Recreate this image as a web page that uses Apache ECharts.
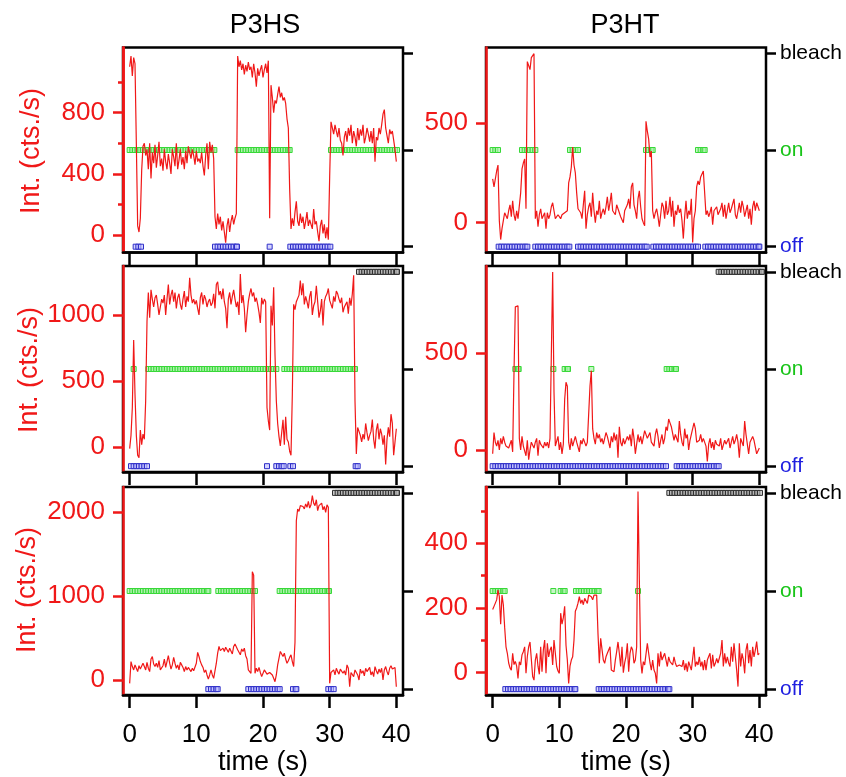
<!DOCTYPE html>
<html>
<head>
<meta charset="utf-8">
<script src="https://cdn.jsdelivr.net/npm/echarts@6/dist/echarts.min.js"></script>
<style>
html, body { margin: 0; padding: 0; background: #fff; }
#chart { width: 846px; height: 777px; }
</style>
</head>
<body>
<div id="chart"></div>
<script>
// Binned fluorescence traces, one value every DT seconds starting at t = 0
const DT = 0.2;
// Spacing of the state markers along the time axis (s)
const MARK_STEP = 0.4;

const timeTicks = [0, 10, 20, 30, 40];
const stateLabels = ['off', 'on', 'bleach'];

// ---- P3HS, molecule 1 ----
const hsTrace1 = [
  1100, 1170, 1040, 1160, 1120, 600, 60, 20, 110, 420,
  580, 600, 520, 560, 430, 600, 370, 540, 470, 590,
  440, 520, 610, 450, 500, 420, 560, 480, 430, 530,
  470, 400, 560, 510, 450, 600, 430, 490, 560, 460,
  510, 430, 550, 470, 580, 540, 500, 560, 520, 460,
  550, 480, 500, 470, 540, 450, 390, 520, 600, 430,
  610, 540, 590, 500, 120, 40, 140, 70, 120, 30,
  90, 80, -50, 60, 110, 20, 90, 130, 70, 110,
  140, 1170, 1100, 1140, 1080, 1120, 1050, 1110, 1070, 1130,
  1080, 1100, 1030, 1120, 1060, 970, 1090, 1040, 1080, 1110,
  1030, 1080, 1120, 1060, 1140, 110, 980, 900, 800, 880,
  860, 920, 970, 900, 930, 880, 900, 860, 760, 700,
  300, 40, 110, 60, 150, 220, 90, 60, 140, 80,
  120, 40, 90, 150, 60, 100, 110, 40, 170, 70,
  90, 20, -40, 60, 100, 10, 70, -20, 50, -30,
  380, 740, 700, 660, 720, 680, 640, 700, 620, 600,
  520, 640, 680, 610, 700, 650, 720, 600, 680, 640,
  580, 700, 620, 690, 650, 720, 600, 640, 700, 660,
  610, 680, 600, 700, 480, 640, 620, 700, 660, 720,
  790, 820, 700, 650, 600, 690, 660, 680, 620, 560,
  480
];
const hsOn1 = [[0, 12.7], [16.2, 24.0], [30.2, 40.1]];
const hsOff1 = [[0.9, 1.7], [12.8, 16.1], [21.0, 21.0], [24.1, 30.1]];
const hsBleach1 = [];
const hsTicks1 = [0, 400, 800];
const hsMinor1 = [200, 600, 1000];

// ---- P3HT, molecule 1 ----
const htTrace1 = [
  220, 180, 175, 260, 290, 10, -85, -30, 10, 50,
  40, 20, 60, 90, 30, 110, 40, 10, 60, 20,
  30, 150, 270, 300, 320, 70, 810, 790, 770, 830,
  840, 850, 20, 60, -20, 40, 70, 20, 30, 50,
  -30, 50, 20, 40, 80, 100, 60, 20, 30, 40,
  30, 20, 40, 30, 50, 40, 60, 200, 230, 280,
  380, 290, 250, 150, 70, 80, 50, 20, 30, 160,
  -30, 40, 80, 100, 30, 150, 60, 0, 60, 40,
  110, 20, 50, 70, 40, 80, 130, 60, 100, 150,
  60, 50, 40, 90, 70, 50, 30, 40, 0, 60,
  50, 90, 120, 70, 180, 200, 90, 60, 20, 120,
  160, 80, 20, 0, -15, 510, 460, 420, 330, 360,
  60, 20, 50, 70, 30, -20, 40, 100, 80, 20,
  110, 40, 60, 130, 30, 110, -20, 60, 40, 90,
  50, 70, 10, -80, 30, 110, 20, 60, 40, 120,
  -100, 20, 60, 180, 210, 190, 230, 240, 260, 270,
  40, 60, 30, 50, 80, -10, 60, 50, 80, 40,
  40, 70, 100, 30, 90, 20, 60, 100, 50, 70,
  80, 120, 40, 20, 60, 100, 50, 110, 80, 30,
  60, 90, 20, 70, -10, 80, 110, 60, 100, 80,
  60
];
const htOn1 = [[0, 0.8], [4.4, 6.4], [11.6, 12.8], [23.0, 24.0], [30.8, 31.8]];
const htOff1 = [[0.9, 5.2], [6.4, 11.5], [12.8, 23.1], [24.1, 30.8], [31.9, 40.0]];
const htBleach1 = [];
const htTicks1 = [0, 500];

// ---- P3HS, molecule 2 ----
const hsTrace2 = [
  -10, 90, 300, 810, 400, 90, -60, -80, 130, 20,
  100, 60, 350, 950, 1170, 980, 1190, 1120, 1060, 1130,
  1150, 1080, 1000, 1060, 1120, 1090, 1150, 1000, 1120, 1230,
  1080, 1150, 1190, 1100, 1170, 1050, 1130, 1160, 1080, 1040,
  1120, 1180, 1060, 1140, 1100, 1280, 1150, 1090, 1120, 1080,
  1110, 1050, 1000, 1130, 1170, 1080, 1150, 1120, 1060, 1100,
  1120, 1070, 1090, 1160, 1050, 1230, 1250, 1150, 1180, 1120,
  1200, 1100, 1050, 900, 1120, 1170, 1080, 1140, 1190, 1120,
  1060, 1100, 1000, 1310, 1090, 1150, 1050, 870, 1000, 1100,
  1160, 1200, 1140, 1170, 1100, 1130, 1080, 1020, 940, 1130,
  1080, 1120, 1100, 300, 200, 130, 1070, 920, 1210, 700,
  350, 180, 80, 10, 5, 207, 20, 230, 60, 40,
  -30, -60, 400, 1080, 1040, 1100, 1090, 1150, 1260, 1150,
  1240, 1080, 1140, 1100, 1050, 1140, 1180, 1000, 1070, 1100,
  1220, 1100, 980, 1030, 1120, 920, 1100, 1140, 1160, 1200,
  1110, 1080, 1050, 1140, 1100, 1180, 1160, 1120, 1090, 1130,
  1020, 1060, 1080, 1100, 1010, 1130, 1070, 1160, 1300, 350,
  -50, 150, 120, 90, 40, 100, 60, 180, 110, 50,
  90, 120, 210, 60, -10, 130, 180, 60, 140, 100,
  20, 90, -130, 60, 150, 80, 250, 180, -60, 40,
  140
];
const hsOn2 = [[0.6, 0.6], [2.8, 22.0], [23.2, 33.8]];
const hsOff2 = [[0.2, 2.6], [20.6, 20.6], [22.0, 23.1], [24.1, 24.5], [33.9, 34.2]];
const hsBleach2 = [[34.4, 40.1]];
const hsTicks2 = [0, 500, 1000];

// ---- P3HT, molecule 2 ----
const htTrace2 = [
  -20, 90, 40, 20, 50, 0, 60, 30, 70, 40,
  20, 30, 10, 0, 50, -10, 400, 740, 750, 745,
  60, 0, 70, 20, 10, -30, 50, -50, 0, 40,
  30, 10, 40, 60, -30, 50, 30, 20, 10, 40,
  20, 40, 10, 60, 60, 920, 300, 20, 10, 70,
  0, 40, -20, 30, 260, 350, 330, 40, 0, 60,
  20, 10, 70, 40, 30, -10, 50, 30, 60, 50,
  20, 40, 40, 330, 410, 110, 60, 30, 90, 60,
  80, 40, 60, 30, 20, 90, 70, 40, 10, 70,
  40, 90, 50, 80, -40, 120, 40, 20, 60, 30,
  20, 70, 50, 80, 20, 110, 60, -20, 30, 80,
  40, 70, 30, 20, 100, 110, 60, 70, 90, 40,
  30, 20, 80, 110, 70, 10, 50, 80, 30, 60,
  120, 100, 160, 140, 120, 130, 50, 80, 90, 40,
  150, 80, 40, 20, 110, 60, 80, 0, 50, 80,
  70, 140, 110, 40, 30, 50, 80, 40, 60, 70,
  20, -60, 30, 60, 10, 40, 0, 50, 30, 40,
  20, 60, 0, -10, 50, 30, 20, 60, 10, 40,
  70, 30, 50, 80, 40, -40, 60, 40, 20, 150,
  80, 70, -20, 40, 30, 70, 50, 40, -20, -10,
  10
];
const htOn2 = [[3.4, 3.9], [9.1, 9.1], [10.8, 11.3], [14.8, 14.8], [26.1, 27.5]];
const htOff2 = [[0, 26.0], [27.6, 33.9]];
const htBleach2 = [[33.9, 40.4]];
const htTicks2 = [0, 500];

// ---- P3HS, molecule 3 ----
const hsTrace3 = [
  -40, 220, 160, 120, 180, 140, 100, 170, 130, 150,
  200, 160, 120, 210, 140, 100, 250, 280, 190, 160,
  200, 150, 230, 120, 100, 170, 250, 150, 220, 290,
  200, 130, 180, 270, 200, 140, 180, 120, 210, 180,
  150, 100, 160, 120, 150, 130, 100, 140, 110, 120,
  200, 330, 280, 220, 180, 150, 90, 120, 60, 10,
  60, 120, 60, 20, 40, 200, 320, 400, 350, 370,
  380, 340, 390, 360, 330, 380, 360, 310, 400, 430,
  450, 360, 350, 300, 370, 340, 380, 290, 250, 120,
  100, 80, 1290, 1250, 80, 140, 100, 150, 90, 40,
  40, 120, 119, 70, 60, 90, 100, 60, 20, -20,
  60, 180, 260, 340, 310, 280, 320, 250, 200, 230,
  270, 300, 220, 160, 450, 1900, 2040, 2010, 2080, 2060,
  2070, 2040, 2100, 2060, 2130, 2050, 2090, 2200, 2110, 2080,
  2150, 2020, 2080, 2060, 2110, 2030, 2070, 2000, 2090, 2060,
  -40, 90, 110, 120, 60, 140, 100, 70, 130, 150,
  80, 110, 60, 180, 140, -80, 90, 100, 40, 120,
  90, 60, 0, 130, 80, 110, 50, 140, 100, 120,
  150, 60, 100, 40, 160, 110, 70, 130, 90, 140,
  0, 120, 160, 100, 60, 140, 170, 130, 110, 150,
  -80
];
const hsOn3 = [[0, 11.8], [13.3, 18.8], [22.5, 29.9]];
const hsOff3 = [[11.8, 13.2], [17.8, 22.5], [24.5, 25.0], [29.8, 30.6]];
const hsBleach3 = [[30.8, 40.1]];
const hsTicks3 = [0, 1000, 2000];

// ---- P3HT, molecule 3 ----
const htTrace3 = [
  195, 205, 215, 225, 255, 235, 150, 240, 210, 140,
  80, 60, 30, 15, 8, 60, 25, 35, 20, -18,
  34, 24, 55, 65, 80, -2, 50, 80, 95, 100,
  -12, -23, 39, 60, 20, -5, 80, 3, 70, 101,
  -2, 91, 49, 70, 80, 24, 101, 60, 19, 5,
  -2, 184, 150, 170, 205, 85, 39, -33, 20, 39,
  49, 101, 190, 200, 215, 235, 214, 225, 210, 230,
  235, 214, 240, 245, 235, 225, 240, 235, 240, 120,
  29, 106, 100, 39, 29, 49, 60, 70, 80, 8,
  3, 3, 39, 65, 95, 60, 19, 80, 0, 30,
  50, 91, 3, 60, 80, 70, 29, 39, 80, 560,
  290, 39, -2, 34, 24, 19, 91, 60, 30, 8,
  39, 8, -2, -33, 60, 19, 65, 39, 50, 60,
  60, 19, 49, 34, 34, 24, 49, 30, 19, 24,
  24, 30, 19, 39, 8, 29, 3, 34, 40, 8,
  8, 80, 19, 34, 24, 49, 19, 34, 8, 39,
  8, 39, 50, 60, 13, 55, 19, 29, 44, 30,
  24, 60, 101, 19, 60, 29, 49, 30, 19, 80,
  34, 91, 50, 8, -43, 91, 19, 60, 40, -2,
  70, 91, 29, 70, 19, 80, 49, 70, 96, 55,
  60
];
const htOn3 = [[0, 1.8], [9.1, 9.1], [10.2, 10.8], [12.5, 15.9], [21.8, 21.8]];
const htOff3 = [[1.9, 12.4], [15.9, 26.5]];
const htBleach3 = [[26.5, 40.1]];
const htTicks3 = [0, 200, 400];
const htMinor3 = [100, 300, 500];

// ---- styling ----
const RED = '#f01818';
const FONT = '"Liberation Sans", Arial, Helvetica, sans-serif';
const STATE_STYLE = {
  on:     { color: 'rgba(160, 240, 160, 0.6)', borderColor: '#38d838' },
  off:    { color: 'rgba(185, 185, 255, 0.6)', borderColor: '#3030c8' },
  bleach: { color: 'rgba(170, 170, 170, 0.6)', borderColor: '#303030' }
};
const LABEL_COLORS = ['#1e1ee0', '#18c418', '#000000'];

const COL_LEFT = [123, 486];
const PLOT_W = 280;
const ROWS = [
  { top: 47.5, height: 205 },
  { top: 266, height: 206 },
  { top: 487, height: 208 }
];

const panels = [
  { row: 0, col: 0, trace: hsTrace1, on: hsOn1, off: hsOff1, bleach: hsBleach1, ticks: hsTicks1, minor: hsMinor1, yMin: -114, yMax: 1226 },
  { row: 0, col: 1, trace: htTrace1, on: htOn1, off: htOff1, bleach: htBleach1, ticks: htTicks1, minor: null, yMin: -150, yMax: 881 },
  { row: 1, col: 0, trace: hsTrace2, on: hsOn2, off: hsOff2, bleach: hsBleach2, ticks: hsTicks2, minor: null, yMin: -187, yMax: 1370 },
  { row: 1, col: 1, trace: htTrace2, on: htOn2, off: htOff2, bleach: htBleach2, ticks: htTicks2, minor: null, yMin: -114, yMax: 951 },
  { row: 2, col: 0, trace: hsTrace3, on: hsOn3, off: hsOff3, bleach: hsBleach3, ticks: hsTicks3, minor: null, yMin: -179, yMax: 2302 },
  { row: 2, col: 1, trace: htTrace3, on: htOn3, off: htOff3, bleach: htBleach3, ticks: htTicks3, minor: htMinor3, yMin: -69, yMax: 574 }
];

function traceData(values) {
  return values.map((v, i) => [Math.round(i * DT * 10) / 10, v]);
}

// one marker every MARK_STEP seconds inside each state interval
function stateData(intervals, level) {
  const pts = [];
  intervals.forEach(([a, b]) => {
    let last = null;
    for (let t = a; t <= b + 1e-6; t += MARK_STEP) {
      last = Math.round(t * 100) / 100;
      pts.push([last, level]);
    }
    if (last !== null && last < b - 0.05) pts.push([b, level]);
  });
  return pts;
}

const grids = [], xAxes = [], yAxes = [], series = [];

panels.forEach((p, k) => {
  const L = ROWS[p.row];
  const isBottom = p.row === 2;
  const isRight = p.col === 1;

  grids.push({
    left: COL_LEFT[p.col], top: L.top, width: PLOT_W, height: L.height,
    show: true, borderColor: '#000', borderWidth: 2.5,
    backgroundColor: 'transparent', containLabel: false, outerBoundsMode: 'none'
  });

  xAxes.push({
    gridIndex: k, type: 'value', min: -1, max: 41,
    axisLine: { show: true, onZero: false, lineStyle: { color: '#000', width: 2.5 } },
    axisTick: { show: true, customValues: timeTicks, length: 13, lineStyle: { color: '#000', width: 2.5 } },
    axisLabel: { show: isBottom, customValues: timeTicks, formatter: v => String(v), color: '#000', fontSize: 26, fontFamily: FONT, margin: 27 },
    splitLine: { show: false }
  });

  const yMain = yAxes.length;
  yAxes.push({
    gridIndex: k, type: 'value', position: 'left', min: p.yMin, max: p.yMax,
    axisLine: { show: true, onZero: false, lineStyle: { color: RED, width: 2.5 } },
    axisTick: { show: true, customValues: p.ticks, length: 10, lineStyle: { color: RED, width: 2.5 } },
    axisLabel: { show: true, customValues: p.ticks, formatter: v => String(v), color: RED, fontSize: 26, fontFamily: FONT, margin: 18 },
    splitLine: { show: false }
  });

  const yState = yAxes.length;
  yAxes.push({
    gridIndex: k, type: 'value', position: 'right', min: -0.06, max: 2.06,
    axisLine: { show: false, onZero: false },
    axisTick: { show: true, customValues: [0, 1, 2], length: 10, lineStyle: { color: '#000', width: 2.5 } },
    axisLabel: {
      show: isRight, customValues: [0, 1, 2], margin: 14,
      formatter: v => { const i = Math.round(Number(v)); return '{s' + i + '|' + stateLabels[i] + '}'; },
      rich: {
        s0: { color: LABEL_COLORS[0], fontSize: 21, fontFamily: FONT },
        s1: { color: LABEL_COLORS[1], fontSize: 21, fontFamily: FONT },
        s2: { color: LABEL_COLORS[2], fontSize: 21, fontFamily: FONT }
      }
    },
    splitLine: { show: false }
  });

  [['on', p.on, 1], ['off', p.off, 0], ['bleach', p.bleach, 2]].forEach(([name, iv, level]) => {
    if (!iv.length) return;
    series.push({
      type: 'scatter', xAxisIndex: k, yAxisIndex: yState,
      data: stateData(iv, level),
      symbol: 'rect', symbolSize: [5, 5],
      itemStyle: { color: STATE_STYLE[name].color, borderColor: STATE_STYLE[name].borderColor, borderWidth: 1, opacity: 1 },
      z: 2, silent: true
    });
  });

  series.push({
    type: 'line', xAxisIndex: k, yAxisIndex: yMain,
    data: traceData(p.trace),
    showSymbol: false, symbol: 'none',
    lineStyle: { color: RED, width: 1.2 },
    z: 3, silent: true
  });
});

// short intermediate ticks on the intensity axis, drawn by an overlaid bare grid
panels.forEach((p) => {
  if (!p.minor) return;
  const L = ROWS[p.row];
  const g = grids.length;
  grids.push({
    left: COL_LEFT[p.col], top: L.top, width: PLOT_W, height: L.height,
    show: false, containLabel: false, outerBoundsMode: 'none'
  });
  xAxes.push({ gridIndex: g, type: 'value', min: -1, max: 41, show: false });
  yAxes.push({
    gridIndex: g, type: 'value', position: 'left', min: p.yMin, max: p.yMax,
    axisLine: { show: true, onZero: false, lineStyle: { color: RED, width: 2.5 } },
    axisTick: { show: true, customValues: p.minor, length: 5, lineStyle: { color: RED, width: 2.5 } },
    axisLabel: { show: true, customValues: p.minor, formatter: () => '' },
    splitLine: { show: false }
  });
});

const yTitle = (x, y) => ({
  type: 'text', x: x, y: y, rotation: Math.PI / 2,
  style: { text: 'Int. (cts./s)', fill: RED, font: '27px ' + FONT, textAlign: 'center', textVerticalAlign: 'middle' }
});
const plainText = (text, x, y, size) => ({
  type: 'text', x: x, y: y,
  style: { text: text, fill: '#000', font: size + 'px ' + FONT, textAlign: 'center', textVerticalAlign: 'middle' }
});

const chart = echarts.init(document.getElementById('chart'), null, { renderer: 'canvas' });
chart.setOption({
  animation: false,
  backgroundColor: '#fff',
  grid: grids,
  xAxis: xAxes,
  yAxis: yAxes,
  series: series,
  graphic: [
    plainText('P3HS', 265, 26, 27),
    plainText('P3HT', 625, 26, 27),
    plainText('time (s)', 263, 763, 27),
    plainText('time (s)', 626, 763, 27),
    yTitle(32, 151),
    yTitle(30, 370),
    yTitle(28, 590)
  ]
});
</script>
</body>
</html>
